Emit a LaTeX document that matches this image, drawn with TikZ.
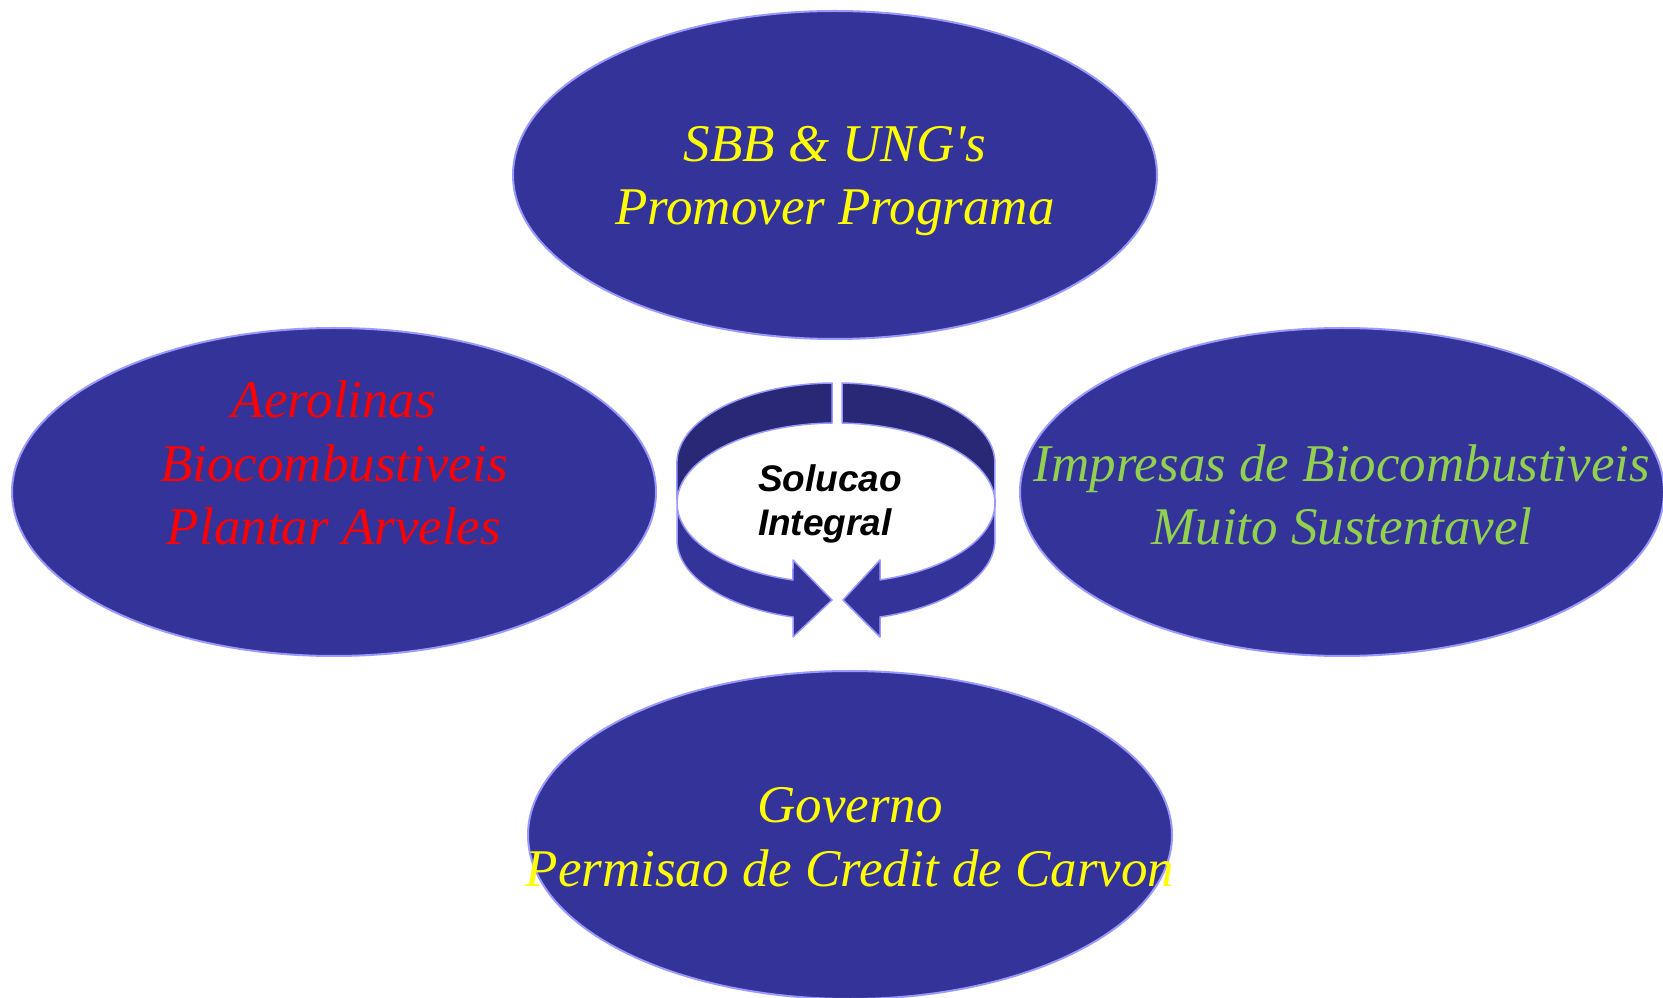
\documentclass[tikz,border=0pt]{standalone}
\usepackage{fontspec}
\setmainfont{Liberation Serif}
\newfontfamily\arialfont{Liberation Sans}
\usetikzlibrary{shapes.geometric}

\definecolor{bubblefill}{HTML}{333399}
\definecolor{bubbleline}{HTML}{9999FF}
\definecolor{bandback}{HTML}{282876}
\definecolor{txtyellow}{HTML}{FFFF00}
\definecolor{txtred}{HTML}{FF0000}
\definecolor{txtgreen}{HTML}{92D050}

\tikzset{
  bubble/.style={ellipse, fill=bubblefill, draw=bubbleline, line width=2pt,
    minimum width=644pt, minimum height=328pt, inner sep=0pt, outer sep=0pt},
  bubbletext/.style={align=center, inner sep=0pt,
    font=\fontsize{53}{63.6}\selectfont\itshape},
  bandpiece/.style={draw=bubbleline, line width=1.5pt, line join=round},
}

\begin{document}
\begin{tikzpicture}[x=1pt, y=1pt]
	\useasboundingbox (0,0) rectangle (1663,997);
	\def \rx{ 159 };
	\def \ry{ 80 };

	\node[bubble] (sbb) at (835,822) {};
	\node[bubble] (aero) at (334,505) {};
	\node[bubble] (impr) at (1342,505) {};
	\node[bubble] (gov) at (850,162) {};

	\node[bubbletext, text=txtyellow] (sbbtext) at ([yshift=-6pt]sbb.center) {SBB \& UNG\textquotesingle s\\Promover Programa};
	\node[bubbletext, text=txtred] (aerotext) at ([yshift=29pt]aero.center) {Aerolinas\\Biocombustiveis\\Plantar Arveles};
	\node[bubbletext, text=txtgreen] (imprtext) at ([yshift=-3pt]impr.center) {Impresas de Biocombustiveis\\Muito Sustentavel};
	\node[bubbletext, text=txtyellow] (govtext) at ([yshift=-2pt]gov.center) {Governo\\Permisao de Credit de Carvon};

	% back half of the ring
	\draw[bandpiece, fill=bandback] (832,614) arc[start angle=91.4, end angle=180, x radius=\rx, y radius=\ry]
		-- (677,494) arc[start angle=180, end angle=91.4, x radius=\rx, y radius=\ry] -- cycle;
	\draw[bandpiece, fill=bandback] (842,614) arc[start angle=87.8, end angle=0, x radius=\rx, y radius=\ry]
		-- (995,494) arc[start angle=0, end angle=87.8, x radius=\rx, y radius=\ry] -- cycle;

	% front half with the two arrow heads
	\draw[bandpiece, fill=bubblefill] (677,494) arc[start angle=180, end angle=254.3, x radius=\rx, y radius=\ry]
		-- (793,437) -- (832,397) -- (793,360) -- (793,380)
		arc[start angle=254.3, end angle=180, x radius=\rx, y radius=\ry] -- cycle;
	\draw[bandpiece, fill=bubblefill] (995,494) arc[start angle=360, end angle=286.1, x radius=\rx, y radius=\ry]
		-- (880,437) -- (843,397) -- (880,360) -- (880,380)
		arc[start angle=286.1, end angle=360, x radius=\rx, y radius=\ry] -- cycle;

	\node[align=left, inner sep=0pt, font=\arialfont\bfseries\itshape\fontsize{37}{44.5}\selectfont] (sol) at (830,493) {Solucao\\Integral};
\end{tikzpicture}
\end{document}
